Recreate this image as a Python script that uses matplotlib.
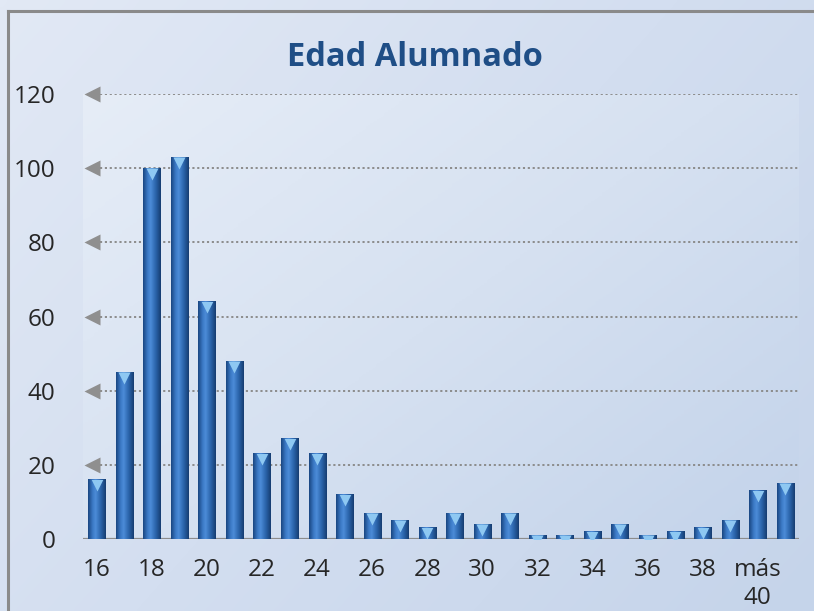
import matplotlib.pyplot as plt
import matplotlib.transforms as mtransforms
from matplotlib.colors import LinearSegmentedColormap
import numpy as np

# datos
edades = ['16', '17', '18', '19', '20', '21', '22', '23', '24', '25', '26', '27', '28',
          '29', '30', '31', '32', '33', '34', '35', '36', '37', '38', '39', 'más 40', '']
alumnos = [16, 45, 100, 103, 64, 48, 23, 27, 23, 12, 7, 5, 3,
           7, 4, 7, 1, 1, 2, 4, 1, 2, 3, 5, 13, 15]
etiquetas = ['16', '', '18', '', '20', '', '22', '', '24', '', '26', '', '28',
             '', '30', '', '32', '', '34', '', '36', '', '38', '', 'más\n40', '']
marcas_y = [0, 20, 40, 60, 80, 100, 120]

plt.rcParams['font.family'] = ['Open Sans', 'DejaVu Sans']

W, H = 814, 611
fig = plt.figure(figsize=(W / 100, H / 100), dpi=100)
fig.patch.set_facecolor('#d6e0f0')

# fondo del grafico con degradado
bg = fig.add_axes([0, 0, 1, 1], zorder=-10)
gx, gy = np.meshgrid(np.linspace(0, 1, 200), np.linspace(0, 1, 200))
fondo_cmap = LinearSegmentedColormap.from_list('fondo', ['#e2e9f5', '#d3def0', '#c5d4ea'])
bg.imshow(0.6 * gx + 0.4 * gy, extent=[0, 1, 0, 1], aspect='auto', cmap=fondo_cmap,
          origin='upper', interpolation='bilinear')
bg.set_xlim(0, 1)
bg.set_ylim(0, 1)
bg.axis('off')
# borde gris (solo arriba e izquierda visibles)
bg.axvline(8 / W, ymax=(H - 11) / H, color='#8a8a8a', lw=2.2)
bg.axhline((H - 11) / H, xmin=8 / W, color='#8a8a8a', lw=2.2)

ax = fig.add_axes([83 / W, 72 / H, 716 / W, 445 / H])
ax.patch.set_alpha(0)

area_cmap = LinearSegmentedColormap.from_list('area', ['#e6edf7', '#d6e1f1', '#c3d3ea'])
ax.imshow(0.55 * gx + 0.45 * gy, extent=[0, 1, 0, 1], transform=ax.transAxes,
          aspect='auto', cmap=area_cmap, origin='upper', zorder=0)

x = np.arange(len(edades))
ancho = 0.62
barras = ax.bar(x, alumnos, width=ancho, color='#2f6db4', zorder=3)

barra_cmap = LinearSegmentedColormap.from_list(
    'barra', [(0, '#1a4682'), (0.25, '#3a78c4'), (0.42, '#4c8cd8'),
              (0.7, '#2c66ad'), (1, '#163d72')])
tira = np.linspace(0, 1, 60).reshape(1, -1)
bajar = mtransforms.ScaledTranslation(0, -4 / 72, fig.dpi_scale_trans)
for xi, v, b in zip(x, alumnos, barras):
    ax.imshow(tira, extent=[xi - ancho / 2, xi + ancho / 2, 0, v], aspect='auto',
              cmap=barra_cmap, zorder=3.5)
    brillo, = ax.plot([xi], [v], marker='v', ms=9, color='#8ec8f2', mec='none',
                      transform=ax.transData + bajar, zorder=4)
    brillo.set_clip_path(b)

# lineas de division punteadas con flecha
for y in marcas_y[1:]:
    ax.axhline(y, xmin=0.024, xmax=1, color='#8c8c8c', lw=1.4, ls=(0, (1.1, 1.4)), zorder=1)
flecha = mtransforms.blended_transform_factory(ax.transAxes, ax.transData)
ax.plot([0.013] * (len(marcas_y) - 1), marcas_y[1:], ls='none', marker='<', ms=11,
        color='#8f8f8f', mec='none', transform=flecha, clip_on=False, zorder=2)
ax.axhline(0, color='#8c8c8c', lw=1.6, zorder=2)

ax.set_xlim(-0.5, len(edades) - 0.5)
ax.set_ylim(0, 120)
ax.set_yticks(marcas_y)
ax.set_xticks(x)
ax.set_xticklabels(etiquetas, linespacing=1.2)
ax.tick_params(axis='y', length=0, pad=20, labelsize=17.5, labelcolor='#262626')
ax.tick_params(axis='x', length=0, pad=14, labelsize=17.5, labelcolor='#262626')
for s in ax.spines.values():
    s.set_visible(False)

fig.text(415 / W, 1 - 57 / H, 'Edad Alumnado', ha='center', va='center',
         fontsize=23.5, fontweight='bold', color='#1f4e86')

fig.savefig('out.png', dpi=100)
